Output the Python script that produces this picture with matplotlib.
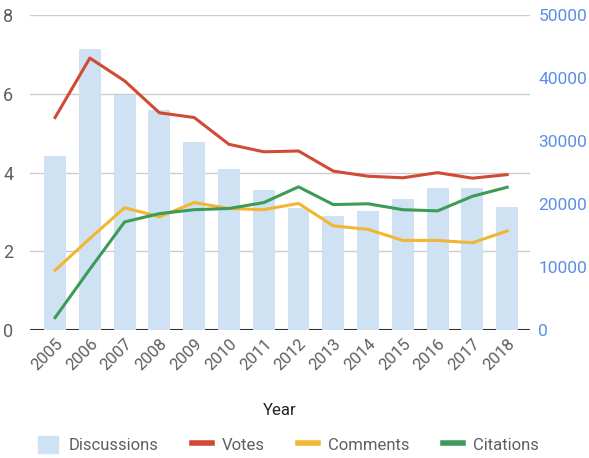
import numpy as np
import matplotlib.pyplot as plt
from matplotlib.patches import Patch
from matplotlib.lines import Line2D

plt.rcParams['font.family'] = ['Roboto', 'DejaVu Sans']

years = ['2005', '2006', '2007', '2008', '2009', '2010', '2011',
         '2012', '2013', '2014', '2015', '2016', '2017', '2018']
discussions = [27600, 44700, 37400, 35000, 29800, 25600, 22200,
               19400, 18200, 18900, 20800, 22500, 22500, 19600]
votes = [5.40, 6.91, 6.33, 5.52, 5.40, 4.72, 4.53,
         4.55, 4.04, 3.91, 3.87, 4.00, 3.86, 3.95]
comments = [1.52, 2.33, 3.11, 2.88, 3.24, 3.09, 3.06,
            3.22, 2.65, 2.56, 2.28, 2.28, 2.22, 2.52]
citations = [0.32, 1.55, 2.75, 2.96, 3.06, 3.09, 3.24,
             3.64, 3.19, 3.21, 3.06, 3.03, 3.40, 3.63]

bar_color = '#cfe2f3'
c_votes = '#d04a35'
c_comments = '#f2b630'
c_cit = '#3c9b56'
gray = '#5f5f5f'
blue = '#5b8fe4'

x = np.arange(len(years))

fig = plt.figure(figsize=(5.89, 4.58), dpi=100)
ax = fig.add_axes([0.051, 0.279, 0.849, 0.688])
ax2 = ax.twinx()

# gridlines follow the left scale (0, 2, 4, 6, 8)
for v in [2, 4, 6, 8]:
    ax.axhline(v / 8 * 50000, color='#cccccc', lw=1, zorder=0)
ax.axhline(0, color='#333333', lw=1.5, zorder=0.5)

# bars on the right (count) scale
ax.bar(x, discussions, width=0.63, color=bar_color, zorder=1)
ax.set_ylim(0, 50000)
ax.set_yticks(np.arange(0, 50001, 10000))
ax.yaxis.tick_right()
ax.tick_params(axis='y', colors=blue, labelsize=12.5, length=0, pad=6)
ax.set_xlim(-0.72, 13.66)
ax.set_xticks(x)
ax.set_xticklabels(years, rotation=45, ha='right', rotation_mode='anchor')
ax.tick_params(axis='x', colors=gray, labelsize=12, length=0, pad=4)
for s in ax.spines.values():
    s.set_visible(False)
ax.set_xlabel('Year', fontsize=12, color='#222222', labelpad=22)

# lines on the left scale
ax2.plot(x, votes, color=c_votes, lw=2.2)
ax2.plot(x, comments, color=c_comments, lw=2.2)
ax2.plot(x, citations, color=c_cit, lw=2.2)
ax2.set_ylim(0, 8)
ax2.set_yticks([0, 2, 4, 6, 8])
ax2.yaxis.tick_left()
ax2.tick_params(axis='y', colors=gray, labelsize=13, length=0, pad=12)
for s in ax2.spines.values():
    s.set_visible(False)

handles = [Patch(color=bar_color),
           Line2D([], [], color=c_votes, lw=4),
           Line2D([], [], color=c_comments, lw=4),
           Line2D([], [], color=c_cit, lw=4)]
fig.legend(handles, ['Discussions', 'Votes', 'Comments', 'Citations'],
           loc='center', bbox_to_anchor=(0.49, 0.03), ncol=4, frameon=False,
           fontsize=12, handlelength=1.2, handleheight=1.2, columnspacing=2.0,
           handletextpad=0.6, labelcolor=gray)

fig.savefig('out.png', dpi=100)
